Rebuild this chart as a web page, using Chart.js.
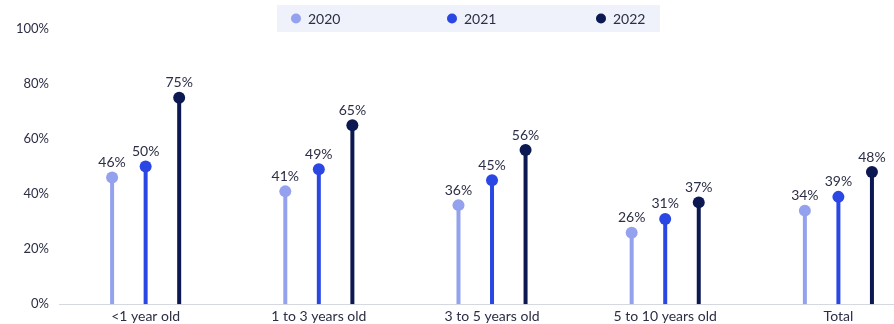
<!DOCTYPE html>
<html>
<head>
<meta charset="utf-8">
<script src="https://cdn.jsdelivr.net/npm/chart.js@4.4.0/dist/chart.umd.min.js"></script>
<style>
  html, body { margin: 0; padding: 0; background: #fff; overflow: hidden; }
  #wrap { width: 894px; height: 324px; overflow: hidden; }
</style>
</head>
<body>
<div id="wrap"><canvas id="chart" width="925" height="329"></canvas></div>
<script>
// categorias e valores (%)
var categories = ["<1 year old", "1 to 3 years old", "3 to 5 years old", "5 to 10 years old", "Total"];
var years = ["2020", "2021", "2022"];
var values2020 = [46, 41, 36, 26, 34];
var values2021 = [50, 49, 45, 31, 39];
var values2022 = [75, 65, 56, 37, 48];
var yTicks = [0, 20, 40, 60, 80, 100];

var colors = ["#94a1ee", "#2a47e4", "#0c1852"];
var textColor = "#2b2e45";
var fontFamily = "Lato, 'Open Sans', sans-serif";

//Desenha a bolinha no topo de cada barra e o rotulo
var lollipop = {
  id: "lollipop",
  afterDatasetsDraw(chart) {
    var ctx = chart.ctx;
    ctx.save();
    chart.data.datasets.forEach(function (ds, i) {
      var meta = chart.getDatasetMeta(i);
      meta.data.forEach(function (bar, j) {
        ctx.beginPath();
        ctx.fillStyle = ds.backgroundColor;
        ctx.arc(bar.x, bar.y, 6, 0, Math.PI * 2);
        ctx.fill();
        ctx.fillStyle = textColor;
        ctx.font = "14px " + fontFamily;
        ctx.textAlign = "center";
        ctx.textBaseline = "bottom";
        ctx.fillText(ds.data[j] + "%", bar.x, bar.y - 8);
      });
    });
    ctx.restore();
  },
};

//Legenda com fundo
var legendBox = {
  id: "legendBox",
  beforeDraw(chart) {
    var ctx = chart.ctx;
    ctx.save();
    ctx.fillStyle = "#eff1fb";
    ctx.fillRect(277, 5, 383, 27);
    var xs = [296, 452, 601];
    ctx.font = "14px " + fontFamily;
    ctx.textBaseline = "middle";
    ctx.textAlign = "left";
    for (var i = 0; i < years.length; i++) {
      ctx.beginPath();
      ctx.fillStyle = colors[i];
      ctx.arc(xs[i], 18.5, 5, 0, Math.PI * 2);
      ctx.fill();
      ctx.fillStyle = textColor;
      ctx.fillText(years[i], xs[i] + 12, 19);
    }
    ctx.restore();
  },
};

var ctx = document.getElementById("chart").getContext("2d");
var myChart = new Chart(ctx, {
  type: "bar",
  data: {
    labels: categories,
    datasets: [
      { label: years[0], data: values2020, backgroundColor: colors[0] },
      { label: years[1], data: values2021, backgroundColor: colors[1] },
      { label: years[2], data: values2022, backgroundColor: colors[2] },
    ],
  },
  options: {
    responsive: false,
    animation: false,
    maxBarThickness: 4,
    categoryPercentage: 0.581,
    layout: { padding: { top: 29, left: 6, right: 0, bottom: 0 } },
    plugins: {
      legend: { display: false },
      tooltip: { enabled: false },
    },
    scales: {
      x: {
        grid: { display: false, drawTicks: false, tickLength: 0 },
        border: { display: true, color: "#d6d8e0", width: 1 },
        ticks: { color: textColor, font: { family: fontFamily, size: 14 }, padding: 4 },
      },
      y: {
        min: 0,
        max: 100,
        afterBuildTicks(axis) {
          axis.ticks = yTicks.map(function (v) { return { value: v }; });
        },
        grid: { display: false, drawTicks: false, tickLength: 0 },
        border: { display: false },
        ticks: {
          color: textColor,
          font: { family: fontFamily, size: 13 },
          padding: 10,
          callback: function (v) { return v + "%"; },
        },
      },
    },
  },
  plugins: [legendBox, lollipop],
});
</script>
</body>
</html>
